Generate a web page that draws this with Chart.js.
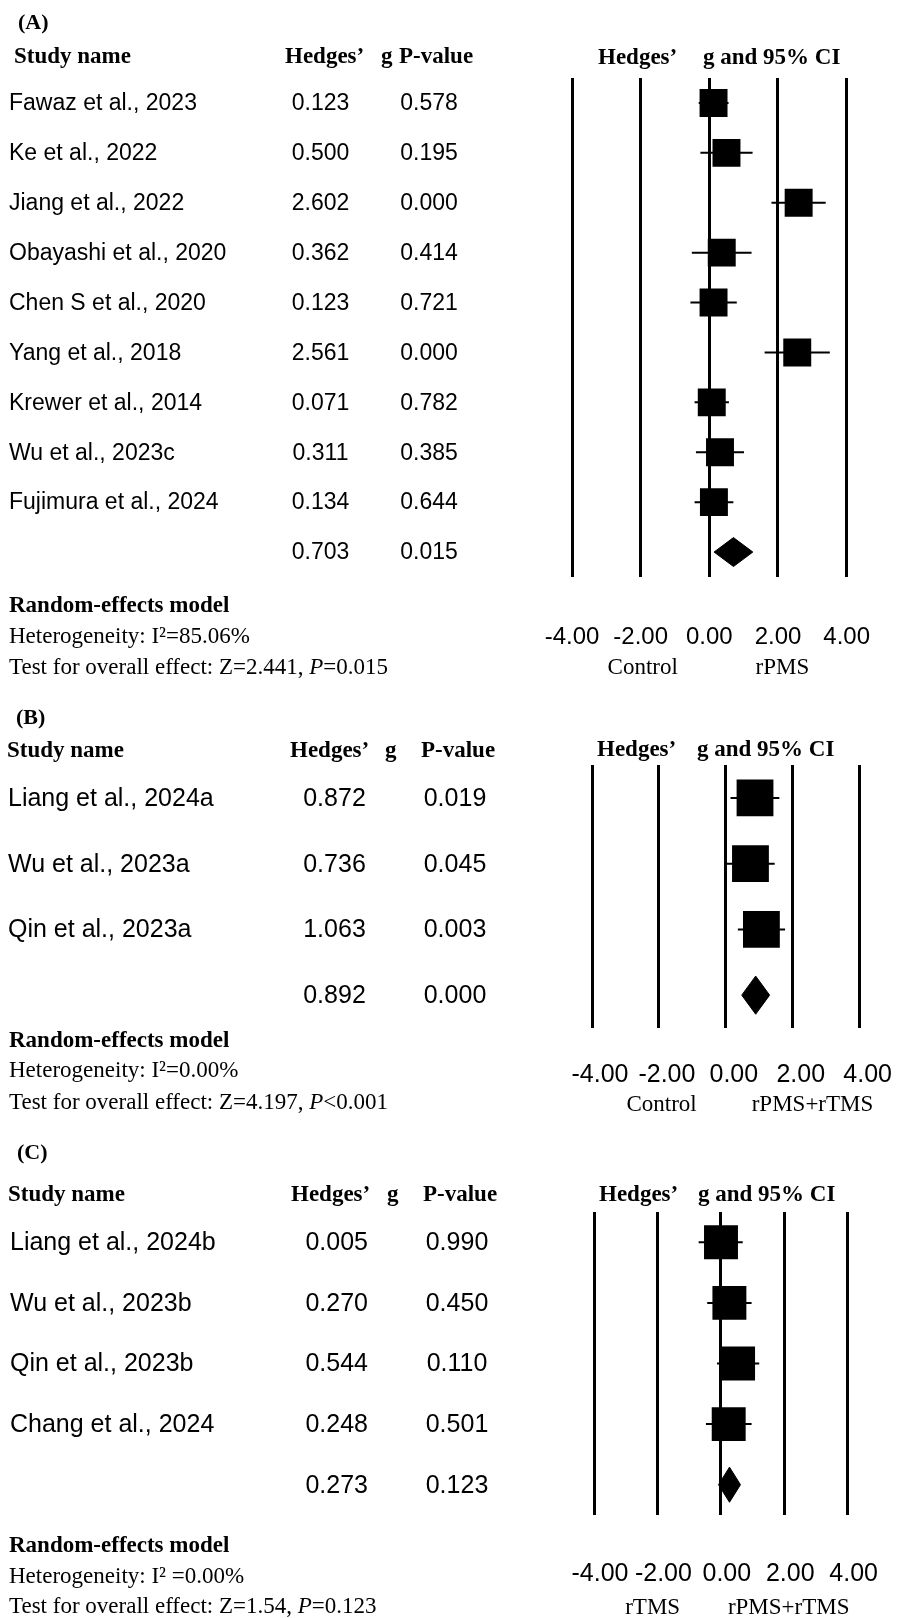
<!DOCTYPE html>
<html>
<head>
<meta charset="utf-8">
<title>Forest plots</title>
<script src="https://cdn.jsdelivr.net/npm/chart.js@4.4.1/dist/chart.umd.min.js"></script>
<style>
    body { margin: 0; background: #fff; }
    canvas { display: block; }
</style>
</head>
<body>
<canvas id="panelA" width="916" height="700"></canvas>
<canvas id="panelB" width="916" height="420"></canvas>
<canvas id="panelC" width="916" height="498"></canvas>
<script>
// ---- (A) rPMS vs control ----
const studiesA = ['Fawaz et al., 2023', 'Ke et al., 2022', 'Jiang et al., 2022', 'Obayashi et al., 2020',
    'Chen S et al., 2020', 'Yang et al., 2018', 'Krewer et al., 2014', 'Wu et al., 2023c', 'Fujimura et al., 2024'];
const hedgesA = [0.123, 0.500, 2.602, 0.362, 0.123, 2.561, 0.071, 0.311, 0.134];
const pValuesA = ['0.578', '0.195', '0.000', '0.414', '0.721', '0.000', '0.782', '0.385', '0.644'];
const lowerA = [-0.31, -0.26, 1.81, -0.51, -0.55, 1.61, -0.43, -0.39, -0.43];
const upperA = [0.56, 1.26, 3.39, 1.23, 0.80, 3.51, 0.57, 1.01, 0.70];
const pooledA = [0.703, 0.138, 1.268];   // g, lower, upper
const pooledPA = '0.015';
const heteroA = 'Heterogeneity: I\u00b2=85.06%';
const testA = ['Test for overall effect: Z=2.441, ', 'P', '=0.015'];
const sidesA = ['Control', 'rPMS'];

// ---- (B) rPMS+rTMS vs control ----
const studiesB = ['Liang et al., 2024a', 'Wu et al., 2023a', 'Qin et al., 2023a'];
const hedgesB = [0.872, 0.736, 1.063];
const pValuesB = ['0.019', '0.045', '0.003'];
const lowerB = [0.14, 0.02, 0.36];
const upperB = [1.60, 1.46, 1.77];
const pooledB = [0.892, 0.475, 1.309];
const pooledPB = '0.000';
const heteroB = 'Heterogeneity: I\u00b2=0.00%';
const testB = ['Test for overall effect: Z=4.197, ', 'P', '<0.001'];
const sidesB = ['Control', 'rPMS+rTMS'];

// ---- (C) rPMS+rTMS vs rTMS ----
const studiesC = ['Liang et al., 2024b', 'Wu et al., 2023b', 'Qin et al., 2023b', 'Chang et al., 2024'];
const hedgesC = [0.005, 0.270, 0.544, 0.248];
const pValuesC = ['0.990', '0.450', '0.110', '0.501'];
const lowerC = [-0.70, -0.43, -0.12, -0.47];
const upperC = [0.69, 0.97, 1.21, 0.97];
const pooledC = [0.273, -0.074, 0.620];
const pooledPC = '0.123';
const heteroC = 'Heterogeneity: I\u00b2 =0.00%';
const testC = ['Test for overall effect: Z=1.54, ', 'P', '=0.123'];
const sidesC = ['rTMS', 'rPMS+rTMS'];

const xTickStep = 2;

const SERIF = '"Liberation Serif", "Times New Roman", serif';
const SANS = '"Liberation Sans", Arial, sans-serif';

function drawTable(chart, d, lay) {
    const ctx = chart.ctx;
    const ys = chart.scales.y;
    const xs = chart.scales.x;
    const n = d.names.length;

    ctx.save();
    ctx.fillStyle = '#000';
    ctx.textBaseline = 'middle';
    ctx.textAlign = 'left';

    ctx.font = 'bold 22px ' + SERIF;
    ctx.fillText(d.tag, lay.tag[0], lay.tag[1]);

    // column headers + plot title
    ctx.font = 'bold 23px ' + SERIF;
    ctx.fillText('Study name', lay.head[0], lay.headY);
    ctx.fillText('Hedges\u2019', lay.head[1], lay.headY);
    ctx.fillText('g', lay.head[2], lay.headY);
    ctx.fillText('P-value', lay.head[3], lay.headY);
    ctx.fillText('Hedges\u2019', lay.title[0], lay.titleY);
    ctx.fillText('g and 95% CI', lay.title[1], lay.titleY);

    // study rows
    ctx.font = lay.rowSize + 'px ' + SANS;
    d.names.forEach((name, i) => {
        const y = ys.getPixelForValue(i) + 1;
        ctx.textAlign = 'left';
        ctx.fillText(name, lay.nameX, y);
        ctx.textAlign = 'center';
        ctx.fillText(d.g[i].toFixed(3), lay.cols[0], y);
        ctx.fillText(d.p[i], lay.cols[1], y);
    });
    const ySum = ys.getPixelForValue(n) + 1;
    ctx.fillText(d.pooled[0].toFixed(3), lay.cols[0], ySum);
    ctx.fillText(d.pooledP, lay.cols[1], ySum);

    // model summary
    ctx.textAlign = 'left';
    ctx.font = 'bold 23px ' + SERIF;
    ctx.fillText('Random-effects model', 9, lay.foot[0]);
    ctx.font = '23px ' + SERIF;
    ctx.fillText(d.hetero, 9, lay.foot[1]);
    let x = 9;
    d.test.forEach((part, k) => {
        ctx.font = (k === 1 ? 'italic ' : '') + '23px ' + SERIF;
        ctx.fillText(part, x, lay.foot[2]);
        x += ctx.measureText(part).width;
    });

    // favours labels under the axis
    ctx.textAlign = 'center';
    ctx.font = '23px ' + SERIF;
    d.sides.forEach((s, k) => {
        ctx.fillText(s, xs.getPixelForValue(lay.sideAt[k]), lay.sideY);
    });
    ctx.restore();
}

function forestPlot(id, d, lay) {
    const n = d.names.length;

    const whiskers = [];
    d.names.forEach((_, i) => {
        whiskers.push({ x: d.lower[i], y: i }, { x: d.upper[i], y: i }, { x: NaN, y: i });
    });
    const squares = d.g.map((v, i) => ({ x: v, y: i }));

    const [pg, plo, phi] = d.pooled;
    const half = 0.29;
    const diamondTop = [{ x: plo, y: n }, { x: pg, y: n - half }, { x: phi, y: n }];
    const diamondBottom = [{ x: plo, y: n }, { x: pg, y: n + half }, { x: phi, y: n }];

    const canvas = document.getElementById(id);
    const H = canvas.height;
    // x axis box must be tall enough to hold the tick labels (they are clipped to it)
    const axisH = lay.tickPad + Math.ceil(lay.tickSize * 1.2) + 6;

    return new Chart(canvas, {
        type: 'scatter',
        data: {
            datasets: [
                {
                    type: 'line',
                    data: whiskers,
                    borderColor: '#000',
                    borderWidth: 2,
                    pointRadius: 0,
                    spanGaps: false,
                    fill: false
                },
                {
                    data: squares,
                    pointStyle: 'rect',
                    backgroundColor: '#000',
                    borderWidth: 0,
                    pointRadius: (c) => {
                        const ys = c.chart.scales.y;
                        if (!ys) return 10;
                        const pitch = Math.abs(ys.getPixelForValue(1) - ys.getPixelForValue(0));
                        return pitch * 0.56 / Math.SQRT2;
                    }
                },
                {
                    type: 'line',
                    data: diamondTop,
                    borderColor: '#000',
                    borderWidth: 1,
                    pointRadius: 0,
                    fill: false
                },
                {
                    type: 'line',
                    data: diamondBottom,
                    borderColor: '#000',
                    backgroundColor: '#000',
                    borderWidth: 1,
                    pointRadius: 0,
                    fill: '-1'
                }
            ]
        },
        options: {
            responsive: false,
            maintainAspectRatio: false,
            animation: false,
            events: [],
            layout: {
                padding: { left: lay.area[0], right: 916 - lay.area[1], top: lay.area[2], bottom: H - lay.area[3] - axisH }
            },
            plugins: {
                legend: { display: false },
                tooltip: { enabled: false }
            },
            scales: {
                x: {
                    type: 'linear',
                    min: -4,
                    max: 4,
                    afterFit: (s) => { s.height = axisH; },
                    grid: { color: '#000', lineWidth: 3, drawTicks: false },
                    border: { display: false },
                    ticks: {
                        stepSize: xTickStep,
                        padding: lay.tickPad,
                        labelOffset: lay.tickShift,
                        color: '#000',
                        maxRotation: 0,
                        autoSkip: false,
                        font: { family: SANS, size: lay.tickSize },
                        callback: (v) => Number(v).toFixed(2)
                    }
                },
                y: {
                    type: 'linear',
                    min: -0.5,
                    max: n + 0.5,
                    reverse: true,
                    display: false
                }
            }
        },
        plugins: [{
            id: 'forestText',
            afterDraw: (chart) => drawTable(chart, d, lay)
        }]
    });
}

forestPlot('panelA', {
    tag: '(A)', names: studiesA, g: hedgesA, p: pValuesA, lower: lowerA, upper: upperA,
    pooled: pooledA, pooledP: pooledPA, hetero: heteroA, test: testA, sides: sidesA
}, {
    area: [572, 885, 78, 577], tickPad: 46, tickShift: 0, tickSize: 24,
    tag: [18, 23.5], headY: 57, head: [14, 285, 381, 399], titleY: 58, title: [598, 703],
    rowSize: 23, nameX: 9, cols: [320.5, 429],
    foot: [606, 637, 668], sideY: 668, sideAt: [-1.94, 2.13]
});

forestPlot('panelB', {
    tag: '(B)', names: studiesB, g: hedgesB, p: pValuesB, lower: lowerB, upper: upperB,
    pooled: pooledB, pooledP: pooledPB, hetero: heteroB, test: testB, sides: sidesB
}, {
    area: [592, 876, 65, 328], tickPad: 32, tickShift: 8, tickSize: 25,
    tag: [16, 18.5], headY: 50.7, head: [7, 290, 385, 421], titleY: 50, title: [597, 697],
    rowSize: 25, nameX: 8, cols: [334.5, 455],
    foot: [340.7, 370.7, 402.7], sideY: 405, sideAt: [-1.92, 2.59]
});

forestPlot('panelC', {
    tag: '(C)', names: studiesC, g: hedgesC, p: pValuesC, lower: lowerC, upper: upperC,
    pooled: pooledC, pooledP: pooledPC, hetero: heteroC, test: testC, sides: sidesC
}, {
    area: [594, 879, 92, 395], tickPad: 44, tickShift: 6, tickSize: 25,
    tag: [17, 33.3], headY: 75, head: [8, 291, 387, 423], titleY: 75, title: [599, 698],
    rowSize: 25, nameX: 10, cols: [336.7, 457],
    foot: [426, 457.3, 487.3], sideY: 488.3, sideAt: [-2.15, 2.14]
});
</script>
</body>
</html>
